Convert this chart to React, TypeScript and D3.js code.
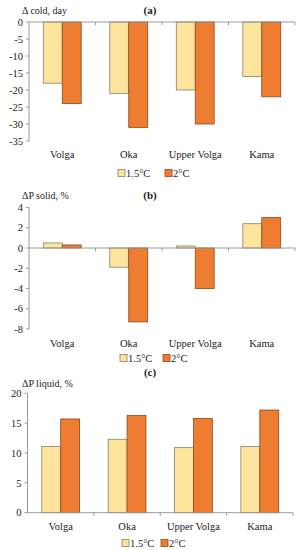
import React, { useEffect, useRef } from "react";
import * as d3 from "d3";

const basins = ["Volga", "Oka", "Upper Volga", "Kama"];
const seriesNames = ["1.5°C", "2°C"];

const coldDays15 = [-18, -21, -20, -16];
const coldDays20 = [-24, -31, -30, -22];

const solidP15 = [0.5, -1.9, 0.2, 2.4];
const solidP20 = [0.3, -7.3, -4.0, 3.0];

const liquidP15 = [11.1, 12.3, 10.9, 11.1];
const liquidP20 = [15.7, 16.3, 15.8, 17.2];

const ticksA = [0, -5, -10, -15, -20, -25, -30, -35];
const ticksB = [4, 2, 0, -2, -4, -6, -8];
const ticksC = [20, 15, 10, 5, 0];

const fills = ["#fde49c", "#ee7d31"];
const strokes = ["#8c8068", "#8a4a1e"];

const App = () => {
  const ref = useRef<SVGSVGElement>(null);

  useEffect(() => {
    const svg = d3.select(ref.current);
    svg.selectAll("*").remove();

    const panels = [
      { tag: "(a)", label: "\u0394 cold, day", s1: coldDays15, s2: coldDays20, ticks: ticksA,
        domain: [-35, 0], range: [141, 22], x: [29, 295], top: 10, cat: 154, leg: 173, legX: [118, 165] },
      { tag: "(b)", label: "\u0394P solid, %", s1: solidP15, s2: solidP20, ticks: ticksB,
        domain: [-8, 4], range: [329, 207.5], x: [29, 295], top: 195, cat: 343, leg: 358, legX: [120, 163] },
      { tag: "(c)", label: "\u0394P liquid, %", s1: liquidP15, s2: liquidP20, ticks: ticksC,
        domain: [0, 20], range: [512.7, 393.3], x: [27.5, 293], top: 372, ylab: 383, cat: 526, leg: 543, legX: [122, 161] },
    ];

    panels.forEach((p) => {
      const g = svg.append("g");
      const y = d3.scaleLinear().domain(p.domain).range(p.range);
      const x = d3.scaleBand().domain(basins).range(p.x as [number, number])
        .paddingInner(0.43).paddingOuter(0.215);
      const xs = d3.scaleBand().domain(seriesNames).range([0, x.bandwidth()]);
      const y0 = y(0);

      // bars
      basins.forEach((b, i) => {
        [p.s1[i], p.s2[i]].forEach((v, k) => {
          g.append("rect")
            .attr("x", (x(b) as number) + (xs(seriesNames[k]) as number))
            .attr("y", Math.min(y(v), y0))
            .attr("width", xs.bandwidth())
            .attr("height", Math.abs(y(v) - y0))
            .attr("fill", fills[k])
            .attr("stroke", strokes[k])
            .attr("stroke-width", 0.8);
        });
      });

      // y axis
      g.append("line")
        .attr("x1", p.x[0]).attr("x2", p.x[0])
        .attr("y1", p.range[0]).attr("y2", p.range[1])
        .attr("stroke", "#9a9a9a");
      p.ticks.forEach((t) => {
        g.append("line")
          .attr("x1", p.x[0] - 3).attr("x2", p.x[0])
          .attr("y1", y(t)).attr("y2", y(t))
          .attr("stroke", "#9a9a9a");
        g.append("text")
          .attr("x", p.x[0] - 6).attr("y", y(t)).attr("dy", "0.35em")
          .attr("text-anchor", "end")
          .attr("font-size", 10.5)
          .text(t);
      });

      // x axis at zero
      g.append("line")
        .attr("x1", p.x[0]).attr("x2", p.x[1])
        .attr("y1", y0).attr("y2", y0)
        .attr("stroke", "#9a9a9a");
      basins.forEach((b) => {
        const bx = (x(b) as number) - x.step() * 0.215 + x.step();
        g.append("line")
          .attr("x1", bx).attr("x2", bx)
          .attr("y1", y0).attr("y2", y0 + 3)
          .attr("stroke", "#9a9a9a");
        g.append("text")
          .attr("x", (x(b) as number) + x.bandwidth() / 2)
          .attr("y", p.cat).attr("dy", "0.35em")
          .attr("text-anchor", "middle")
          .attr("font-size", 10.5)
          .text(b);
      });

      // titles
      g.append("text")
        .attr("x", 150).attr("y", p.top).attr("dy", "0.35em")
        .attr("text-anchor", "middle")
        .attr("font-size", 11).attr("font-weight", "bold")
        .text(p.tag);
      g.append("text")
        .attr("x", 22).attr("y", p.ylab ?? p.top).attr("dy", "0.35em")
        .attr("font-size", 10)
        .text(p.label);

      // legend
      seriesNames.forEach((s, k) => {
        const lx = p.legX[k];
        g.append("rect")
          .attr("x", lx).attr("y", p.leg - 3.5)
          .attr("width", 7).attr("height", 7)
          .attr("fill", fills[k]).attr("stroke", strokes[k]).attr("stroke-width", 0.8);
        g.append("text")
          .attr("x", lx + 8).attr("y", p.leg).attr("dy", "0.35em")
          .attr("font-size", 10.5)
          .text(s);
      });
    });
  }, []);

  return (
    <svg
      ref={ref}
      width={299}
      height={550}
      style={{
        position: "absolute",
        left: 0,
        top: 0,
        background: "#fff",
        fontFamily: "'Liberation Serif', 'Times New Roman', serif",
        fill: "#222",
      }}
    />
  );
};

export default App;
